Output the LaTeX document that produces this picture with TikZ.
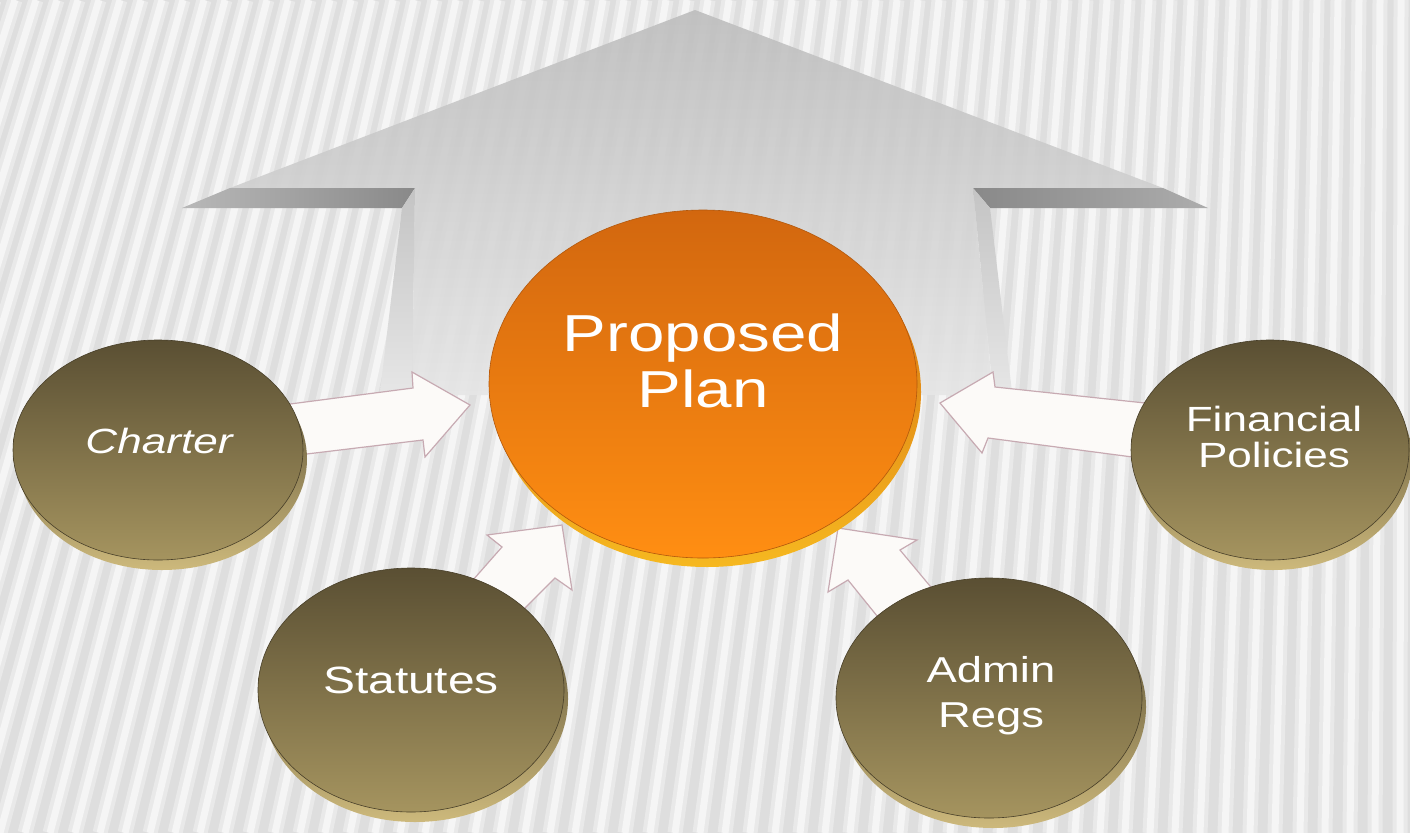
\documentclass[tikz,border=0pt]{standalone}
\usepackage{fontspec}
\newfontfamily\slidefont{Liberation Sans}[FakeStretch=1.26]
\usetikzlibrary{shapes.geometric}
\definecolor{backgrey}{HTML}{DEDEDE}
\definecolor{facetop}{HTML}{BDBDBD}
\definecolor{facebottom}{HTML}{E6E6E6}
\definecolor{bandgrey}{HTML}{898989}
\definecolor{sidegrey}{HTML}{C4C4C4}
\definecolor{arrowfill}{HTML}{FCFAF8}
\definecolor{arrowline}{HTML}{C7AAB2}
\definecolor{plantop}{HTML}{D2670F}
\definecolor{planbottom}{HTML}{FF8E12}
\definecolor{planrim}{HTML}{F6B820}
\definecolor{olivetop}{HTML}{5A4F33}
\definecolor{olivebottom}{HTML}{A5945F}
\definecolor{oliverim}{HTML}{CDB97C}
\begin{document}
\begin{tikzpicture}[x=1pt,y=-1pt,
    stripe/.style={white,line width=15pt,opacity=0.35},
    stripecore/.style={white,line width=7pt,opacity=0.55},
    side/.style={top color=sidegrey,bottom color=facebottom},
    blockarrow/.style={fill=arrowfill,draw=arrowline,line width=1.2pt,line join=miter},
    plandisc/.style={ellipse,inner sep=0pt,top color=plantop,bottom color=planbottom,draw=plantop!85!black,line width=0.6pt},
    planrimdisc/.style={ellipse,inner sep=0pt,top color=plantop,bottom color=planrim},
    disc/.style={ellipse,inner sep=0pt,top color=olivetop,bottom color=olivebottom,draw=olivetop!80!black,line width=0.6pt},
    rimdisc/.style={ellipse,inner sep=0pt,top color=olivetop!80!black,bottom color=oliverim},
    disctext/.style={text=white,align=center,inner sep=0pt}]
  \useasboundingbox (0,0) rectangle (1410,833);
  \fill[backgrey] (0,0) rectangle (1410,833);
  \begin{scope}
    \clip (0,0) rectangle (1410,833);
    \foreach \i in {-12,...,60} {
      \draw[stripe] ({25*\i},833) -- ({25*\i+225-4*\i},0);
      \draw[stripecore] ({25*\i},833) -- ({25*\i+225-4*\i},0);
    }
  \end{scope}

  \shade[top color=facetop,bottom color=facebottom,fill opacity=0.9]
    (695,10) -- (1163,188) -- (973,188) -- (993,395) -- (412,395) -- (415,188) -- (230,188) -- cycle;
  \shade[left color=bandgrey!60!white,right color=bandgrey] (230,188) -- (415,188) -- (402,208) -- (182,208) -- cycle;
  \shade[left color=bandgrey,right color=bandgrey!70!white] (973,188) -- (1163,188) -- (1208,208) -- (990,208) -- cycle;
  \shade[side] (402,208) -- (415,188) -- (412,392) -- (380,392) -- cycle;
  \shade[side] (973,188) -- (990,208) -- (1012,392) -- (993,392) -- cycle;

  \draw[blockarrow] (290,404) -- (413,388) -- (412,372) -- (470,405) -- (425,457) -- (423,440) -- (290,456) -- cycle;
  \draw[blockarrow] (458,597) -- (502,547) -- (487,535) -- (562,525) -- (572,590) -- (555,578) -- (510,623) -- cycle;
  \draw[blockarrow] (890,632) -- (848,580) -- (828,592) -- (838,528) -- (917,540) -- (900,550) -- (945,604) -- cycle;
  \draw[blockarrow] (1145,403) -- (995,387) -- (993,372) -- (940,403) -- (982,453) -- (988,438) -- (1140,458) -- cycle;

  \node[planrimdisc,minimum width=428pt,minimum height=350pt] (plan-rim) at (707,392) {};
  \node[plandisc,minimum width=428pt,minimum height=348pt] (plan) at (703,384) {};

  \node[rimdisc,minimum width=290pt,minimum height=222pt] (charter-rim) at (162,459) {};
  \node[disc,minimum width=290pt,minimum height=220pt] (charter) at (158,450) {};
  \node[rimdisc,minimum width=306pt,minimum height=246pt] (statutes-rim) at (415,699) {};
  \node[disc,minimum width=306pt,minimum height=244pt] (statutes) at (411,690) {};
  \node[rimdisc,minimum width=306pt,minimum height=242pt] (admin-rim) at (993,707) {};
  \node[disc,minimum width=306pt,minimum height=240pt] (admin) at (989,698) {};
  \node[rimdisc,minimum width=278pt,minimum height=222pt] (financial-rim) at (1273,459) {};
  \node[disc,minimum width=278pt,minimum height=220pt] (financial) at (1270,450) {};

  \node[disctext,font=\slidefont\fontsize{52}{56}\selectfont] (plan-label) at (703,361) {Proposed\\Plan};
  \node[disctext,font=\slidefont\itshape\fontsize{35}{40}\selectfont,anchor=base] (charter-label) at (159,453) {Charter};
  \node[disctext,font=\slidefont\fontsize{38}{42}\selectfont,anchor=base] (statutes-label) at (411,693) {Statutes};
  \node[disctext,font=\slidefont\fontsize{36}{45}\selectfont] (admin-label) at (991,696) {Admin\\Regs};
  \node[disctext,font=\slidefont\fontsize{35}{36}\selectfont] (financial-label) at (1274,437) {Financial\\Policies};
\end{tikzpicture}
\end{document}
